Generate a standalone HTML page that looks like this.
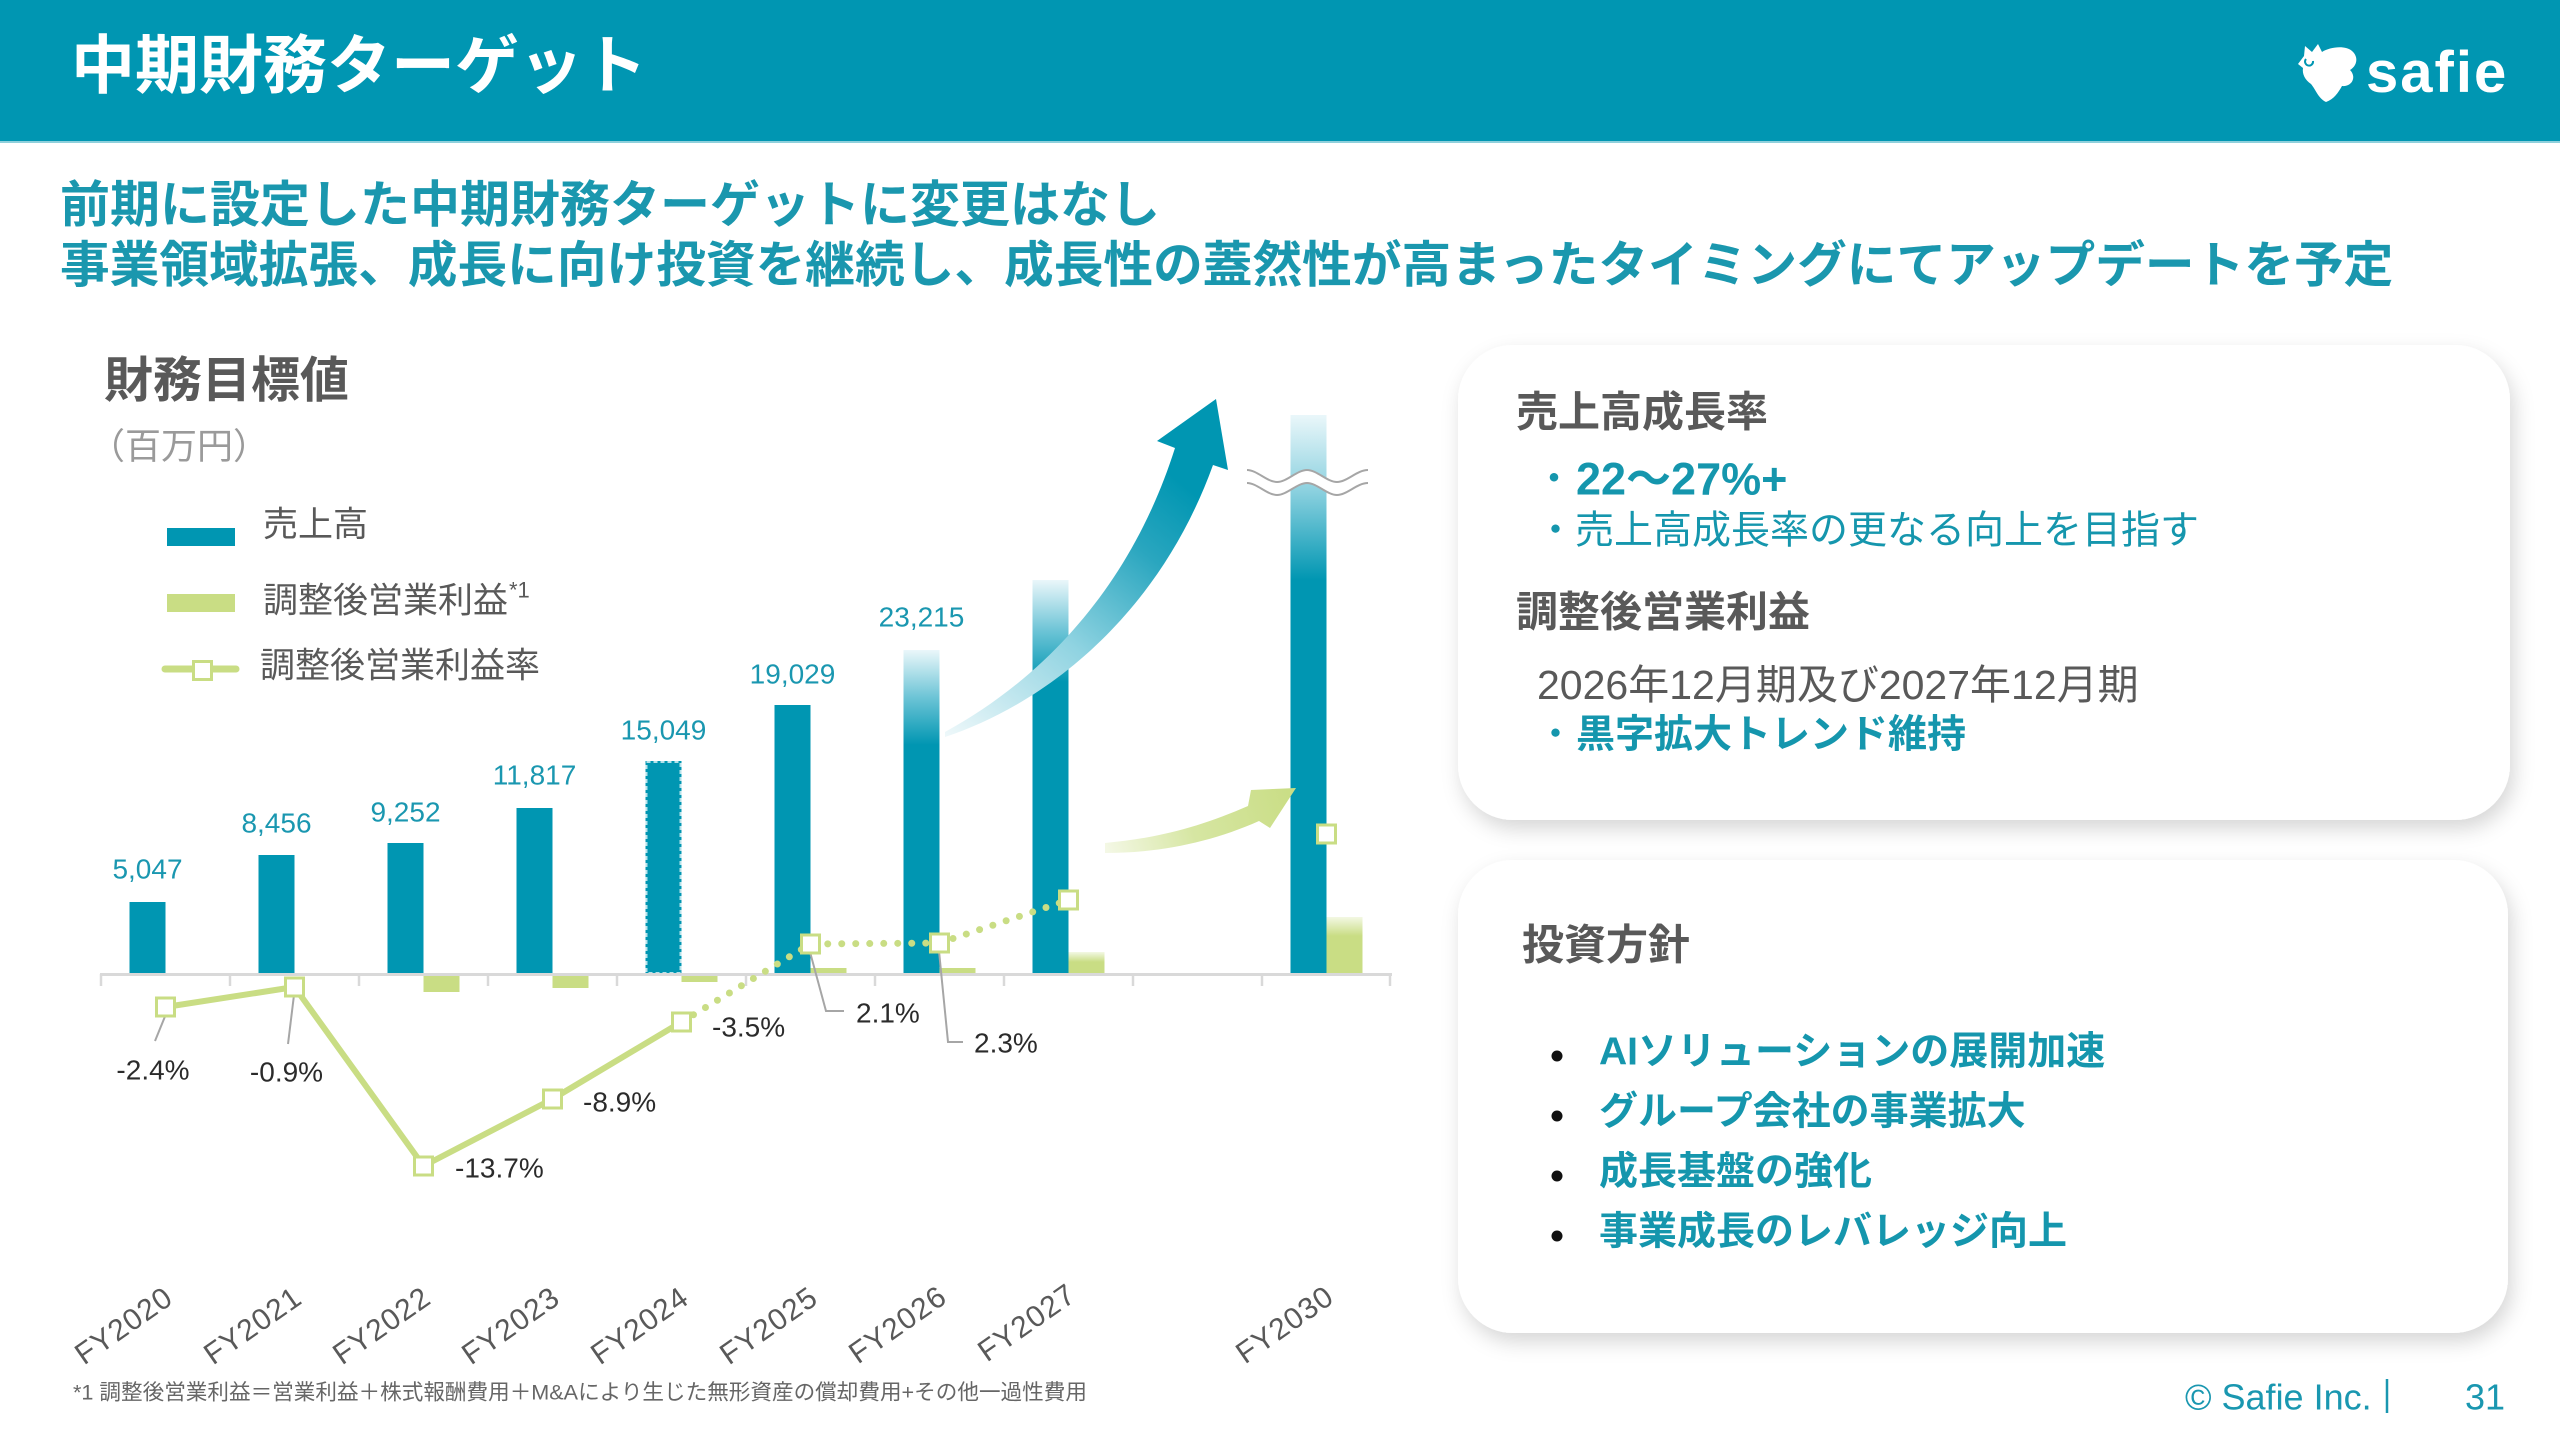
<!DOCTYPE html>
<html><head><meta charset="utf-8">
<style>
html,body{margin:0;padding:0;background:#fff;}
svg{display:block;}
text{font-family:"Liberation Sans","Noto Sans CJK JP",sans-serif;}
</style></head>
<body>
<svg width="2560" height="1440" viewBox="0 0 2560 1440" xmlns="http://www.w3.org/2000/svg">
<defs>
  <filter id="sh" x="-10%" y="-10%" width="125%" height="130%">
    <feDropShadow dx="4" dy="9" stdDeviation="10" flood-color="#000" flood-opacity="0.16"/>
  </filter>
  <linearGradient id="g26" gradientUnits="userSpaceOnUse" x1="0" y1="650" x2="0" y2="745">
    <stop offset="0" stop-color="#eaf7fa"/><stop offset="0.5" stop-color="#6cc4d6"/><stop offset="1" stop-color="#0096b2"/>
  </linearGradient>
  <linearGradient id="g27" gradientUnits="userSpaceOnUse" x1="0" y1="580" x2="0" y2="682">
    <stop offset="0" stop-color="#eaf7fa"/><stop offset="0.5" stop-color="#6cc4d6"/><stop offset="1" stop-color="#0096b2"/>
  </linearGradient>
  <linearGradient id="g30" gradientUnits="userSpaceOnUse" x1="0" y1="415" x2="0" y2="580">
    <stop offset="0" stop-color="#eaf7fa"/><stop offset="0.45" stop-color="#8ed2e0"/><stop offset="1" stop-color="#0096b2"/>
  </linearGradient>
  <linearGradient id="gg27" gradientUnits="userSpaceOnUse" x1="0" y1="952" x2="0" y2="962">
    <stop offset="0" stop-color="#f3f8e4"/><stop offset="1" stop-color="#c9dd84"/>
  </linearGradient>
  <linearGradient id="gg30" gradientUnits="userSpaceOnUse" x1="0" y1="917" x2="0" y2="936">
    <stop offset="0" stop-color="#f3f8e4"/><stop offset="1" stop-color="#c9dd84"/>
  </linearGradient>
  <linearGradient id="arT" gradientUnits="userSpaceOnUse" x1="945" y1="735" x2="1216" y2="400">
    <stop offset="0" stop-color="#eef8fa"/><stop offset="0.35" stop-color="#8fd3e1"/><stop offset="0.62" stop-color="#2aa6bf"/><stop offset="0.8" stop-color="#0096b2"/><stop offset="1" stop-color="#0096b2"/>
  </linearGradient>
  <linearGradient id="arG" gradientUnits="userSpaceOnUse" x1="1105" y1="848" x2="1296" y2="790">
    <stop offset="0" stop-color="#f4f8e6"/><stop offset="0.45" stop-color="#d6e6a2"/><stop offset="1" stop-color="#c9dd84"/>
  </linearGradient>
</defs>

<!-- Header -->
<rect x="0" y="0" width="2560" height="141" fill="#0096b2"/>
<rect x="0" y="141" width="2560" height="2" fill="#8fd0dc"/>
<text x="71" y="66" font-size="64" font-weight="bold" fill="#ffffff" dominant-baseline="central">中期財務ターゲット</text>
<!-- logo -->
<path d="M2298,64 L2304,56 L2305,46 L2312,52 L2318,44 L2322,52 C2330,47 2345,45 2352,51 C2359,57 2357,66 2350,70 C2357,77 2352,87 2342,86 C2338,93 2334,99 2326,102 C2318,98 2316,90 2311,84 C2305,80 2302,74 2303,68 Z" fill="#ffffff"/>
<path d="M2306,59 a4,4 0 1,0 7,2" fill="none" stroke="#0096b2" stroke-width="2"/>
<text x="2366" y="92" font-size="58" font-weight="bold" fill="#ffffff" letter-spacing="2">safie</text>

<!-- Subtitle -->
<text x="60" y="205" font-size="50" font-weight="bold" fill="#1a97ae" dominant-baseline="central">前期に設定した中期財務ターゲットに変更はなし</text>
<text x="60" y="265" font-size="49.7" font-weight="bold" fill="#1a97ae" dominant-baseline="central">事業領域拡張、成長に向け投資を継続し、成長性の蓋然性が高まったタイミングにてアップデートを予定</text>

<!-- Chart title / legend -->
<text x="104" y="381" font-size="49" font-weight="bold" fill="#595959" dominant-baseline="central">財務目標値</text>
<text x="89" y="446" font-size="36" fill="#9a9a9a" dominant-baseline="central">（百万円）</text>

<rect x="167" y="528" width="68" height="18" fill="#0096b2"/>
<text x="263" y="525" font-size="35" fill="#595959" dominant-baseline="central">売上高</text>
<rect x="167" y="594" width="68" height="18" fill="#c9dd84"/>
<text x="263" y="601" font-size="35" fill="#595959" dominant-baseline="central">調整後営業利益</text>
<text x="509" y="590" font-size="22" fill="#595959" dominant-baseline="central">*1</text>
<line x1="165" y1="669" x2="236" y2="669" stroke="#c9dd84" stroke-width="7" stroke-linecap="round"/>
<rect x="193.5" y="661.5" width="18" height="18" fill="#ffffff" stroke="#c9dd84" stroke-width="3"/>
<text x="260" y="666" font-size="35" fill="#595959" dominant-baseline="central">調整後営業利益率</text>

<!-- Revenue bars -->
<rect x="129.5" y="902" width="36" height="72" fill="#0096b2"/>
<rect x="258.5" y="855" width="36" height="119" fill="#0096b2"/>
<rect x="387.5" y="843" width="36" height="131" fill="#0096b2"/>
<rect x="516.5" y="808" width="36" height="166" fill="#0096b2"/>
<rect x="645.5" y="761" width="36" height="213" fill="#0096b2"/>
<rect x="646.5" y="762" width="34" height="211" fill="none" stroke="#b5e2ea" stroke-width="2" stroke-dasharray="4 3"/>
<rect x="774.5" y="705" width="36" height="269" fill="#0096b2"/>
<rect x="903.5" y="650" width="36" height="324" fill="url(#g26)"/>
<rect x="1032.5" y="580" width="36" height="394" fill="url(#g27)"/>
<rect x="1290.5" y="415" width="36" height="559" fill="url(#g30)"/>

<!-- Adj. op. profit bars -->
<rect x="165.5" y="974" width="36" height="2" fill="#c9dd84"/>
<rect x="294.5" y="974" width="36" height="2" fill="#c9dd84"/>
<rect x="423.5" y="974" width="36" height="18" fill="#c9dd84"/>
<rect x="552.5" y="974" width="36" height="14" fill="#c9dd84"/>
<rect x="681.5" y="974" width="36" height="8" fill="#c9dd84"/>
<rect x="810.5" y="968" width="36" height="6" fill="#c9dd84"/>
<rect x="939.5" y="968" width="36" height="6" fill="#c9dd84"/>
<rect x="1068.5" y="952" width="36" height="22" fill="url(#gg27)"/>
<rect x="1326.5" y="917" width="36" height="57" fill="url(#gg30)"/>

<!-- axis -->
<line x1="100" y1="974.5" x2="1392" y2="974.5" stroke="#d9d9d9" stroke-width="3"/>
<g stroke="#d9d9d9" stroke-width="2.5">
<line x1="101" y1="974" x2="101" y2="986"/>
<line x1="230" y1="974" x2="230" y2="986"/>
<line x1="359" y1="974" x2="359" y2="986"/>
<line x1="488" y1="974" x2="488" y2="986"/>
<line x1="617" y1="974" x2="617" y2="986"/>
<line x1="746" y1="974" x2="746" y2="986"/>
<line x1="875" y1="974" x2="875" y2="986"/>
<line x1="1004" y1="974" x2="1004" y2="986"/>
<line x1="1133" y1="974" x2="1133" y2="986"/>
<line x1="1262" y1="974" x2="1262" y2="986"/>
<line x1="1390" y1="974" x2="1390" y2="986"/>
</g>

<!-- break mark on FY2030 -->
<path d="M1247,470 C1257,470 1267,482 1277,482 C1287,482 1297,470 1307,470 C1317,470 1327,482 1337,482 C1347,482 1357,470 1368,470 L1368,483 C1357,483 1347,495 1337,495 C1327,495 1317,483 1307,483 C1297,483 1287,495 1277,495 C1267,495 1257,483 1247,483 Z" fill="#ffffff"/>
<path d="M1247,470 C1257,470 1267,482 1277,482 C1287,482 1297,470 1307,470 C1317,470 1327,482 1337,482 C1347,482 1357,470 1368,470" fill="none" stroke="#a6a6a6" stroke-width="2"/>
<path d="M1247,483 C1257,483 1267,495 1277,495 C1287,495 1297,483 1307,483 C1317,483 1327,495 1337,495 C1347,495 1357,483 1368,483" fill="none" stroke="#a6a6a6" stroke-width="2"/>

<!-- arrows -->
<path d="M945,737 C1050,702 1160,612 1213,465 L1228,470 L1216,399 L1157,441 L1175,448 C1130,590 1040,680 945,732 Z" fill="url(#arT)"/>
<path d="M1105,853 C1160,853 1212,842 1259,821 L1270,828 L1296,788 L1251,790 L1248,806 C1202,826 1160,838 1105,843 Z" fill="url(#arG)"/>

<!-- revenue labels -->
<g font-size="28" fill="#1a97b0" text-anchor="middle" dominant-baseline="central">
<text x="147.5" y="869">5,047</text>
<text x="276.5" y="823">8,456</text>
<text x="405.5" y="812">9,252</text>
<text x="534.5" y="775">11,817</text>
<text x="663.5" y="730">15,049</text>
<text x="792.5" y="674">19,029</text>
<text x="921.5" y="617">23,215</text>
</g>

<!-- margin line -->
<polyline points="165.5,1007 294.5,987 423.5,1166 552.5,1099 681.5,1022" fill="none" stroke="#c9dd84" stroke-width="6" stroke-linejoin="round"/>
<polyline points="681.5,1022 810.5,944 939.5,943 1068.5,900" fill="none" stroke="#c9dd84" stroke-width="7" stroke-linecap="round" stroke-dasharray="0 14"/>

<!-- leader lines -->
<g stroke="#a6a6a6" stroke-width="2" fill="none">
<line x1="166" y1="1014" x2="155" y2="1041"/>
<line x1="294" y1="995" x2="288" y2="1044"/>
<polyline points="810,952 826,1011 844,1011"/>
<polyline points="939,951 948,1042 963,1042"/>
</g>

<!-- markers -->
<g fill="#ffffff" stroke="#c9dd84" stroke-width="3">
<rect x="156.5" y="998" width="18" height="18"/>
<rect x="285.5" y="978" width="18" height="18"/>
<rect x="414.5" y="1157" width="18" height="18"/>
<rect x="543.5" y="1090" width="18" height="18"/>
<rect x="672.5" y="1013" width="18" height="18"/>
<rect x="801.5" y="935" width="18" height="18"/>
<rect x="930.5" y="934" width="18" height="18"/>
<rect x="1059.5" y="891" width="18" height="18"/>
<rect x="1317.5" y="825" width="18" height="18"/>
</g>

<!-- margin labels -->
<g font-size="28" fill="#2b2b2b" dominant-baseline="central">
<text x="153" y="1070" text-anchor="middle">-2.4%</text>
<text x="286.5" y="1072" text-anchor="middle">-0.9%</text>
<text x="455" y="1168">-13.7%</text>
<text x="583" y="1102">-8.9%</text>
<text x="712" y="1027">-3.5%</text>
<text x="856" y="1013">2.1%</text>
<text x="974" y="1043">2.3%</text>
</g>

<!-- x labels -->
<g font-size="30" fill="#595959" text-anchor="middle" dominant-baseline="central" letter-spacing="1">
<text transform="translate(124,1326) rotate(-35)">FY2020</text>
<text transform="translate(253,1326) rotate(-35)">FY2021</text>
<text transform="translate(382,1326) rotate(-35)">FY2022</text>
<text transform="translate(511,1326) rotate(-35)">FY2023</text>
<text transform="translate(640,1326) rotate(-35)">FY2024</text>
<text transform="translate(769,1326) rotate(-35)">FY2025</text>
<text transform="translate(898,1325) rotate(-35)">FY2026</text>
<text transform="translate(1027,1323) rotate(-35)">FY2027</text>
<text transform="translate(1285,1325) rotate(-35)">FY2030</text>
</g>

<!-- footnote -->
<text x="73" y="1392" font-size="21.6" fill="#666666" dominant-baseline="central">*1 調整後営業利益＝営業利益＋株式報酬費用＋M&amp;Aにより生じた無形資産の償却費用+その他一過性費用</text>

<!-- Card 1 -->
<rect x="1458" y="345" width="1052" height="475" rx="55" ry="55" fill="#ffffff" filter="url(#sh)"/>
<text x="1516" y="412" font-size="42" font-weight="bold" fill="#595959" dominant-baseline="central">売上高成長率</text>
<text x="1534" y="479" font-size="40" fill="#1596ad" dominant-baseline="central">・</text>
<text x="1576" y="479" font-size="45" font-weight="bold" fill="#1596ad" dominant-baseline="central">22～27%+</text>
<text x="1536" y="531" font-size="39" fill="#1596ad" dominant-baseline="central">・売上高成長率の更なる向上を目指す</text>
<text x="1516" y="612" font-size="42" font-weight="bold" fill="#595959" dominant-baseline="central">調整後営業利益</text>
<text x="1537" y="685" font-size="41" fill="#595959" dominant-baseline="central">2026年12月期及び2027年12月期</text>
<text x="1536" y="735" font-size="39" fill="#1596ad" dominant-baseline="central">・</text>
<text x="1576" y="735" font-size="39" font-weight="bold" fill="#1596ad" dominant-baseline="central">黒字拡大トレンド維持</text>

<!-- Card 2 -->
<rect x="1458" y="860" width="1050" height="473" rx="55" ry="55" fill="#ffffff" filter="url(#sh)"/>
<text x="1522" y="945" font-size="42" font-weight="bold" fill="#595959" dominant-baseline="central">投資方針</text>
<g fill="#111111">
<circle cx="1557" cy="1056" r="5.5"/>
<circle cx="1557" cy="1116" r="5.5"/>
<circle cx="1557" cy="1176" r="5.5"/>
<circle cx="1557" cy="1236" r="5.5"/>
</g>
<g font-size="39" font-weight="bold" fill="#1596ad" dominant-baseline="central">
<text x="1599" y="1052">AIソリューションの展開加速</text>
<text x="1599" y="1112">グループ会社の事業拡大</text>
<text x="1599" y="1172">成長基盤の強化</text>
<text x="1599" y="1232">事業成長のレバレッジ向上</text>
</g>

<!-- footer -->
<text x="2185" y="1397" font-size="36" fill="#1a97b0" dominant-baseline="central">© Safie Inc.</text>
<line x1="2387" y1="1379" x2="2387" y2="1413" stroke="#1a97b0" stroke-width="2.5"/>
<text x="2465" y="1397" font-size="36" fill="#1a97b0" dominant-baseline="central">31</text>
</svg>
</body></html>
